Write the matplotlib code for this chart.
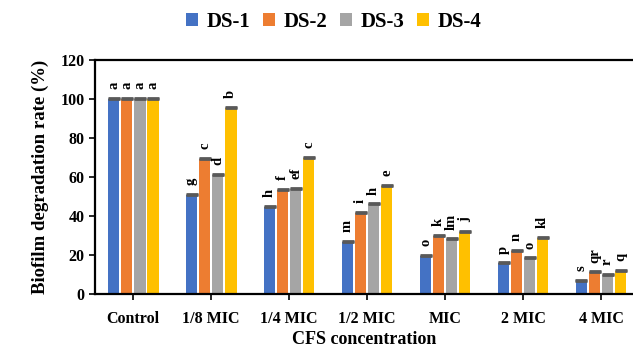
"""Biofilm degradation rate by CFS concentration, grouped bars."""

import matplotlib

matplotlib.use("Agg")
import numpy as np  # noqa: E402
from matplotlib import pyplot as plt  # noqa: E402

categories = ["Control", "1/8 MIC", "1/4 MIC", "1/2 MIC", "MIC", "2 MIC", "4 MIC"]
series_names = ["DS-1", "DS-2", "DS-3", "DS-4"]
ds1 = [100, 50.8, 44.8, 26.8, 19.6, 15.7, 6.8]
ds2 = [100, 69.2, 53.3, 41.7, 29.7, 22.2, 11.1]
ds3 = [100, 61.0, 53.8, 46.0, 28.0, 18.3, 9.9]
ds4 = [100, 95.5, 69.9, 55.5, 32.0, 28.9, 11.8]
errors = [0.5, 0.5, 0.5, 0.5, 0.5, 0.5, 0.5]
letters_ds1 = ["a", "g", "h", "m", "o", "p", "s"]
letters_ds2 = ["a", "c", "f", "i", "k", "n", "qr"]
letters_ds3 = ["a", "d", "ef", "h", "lm", "o", "r"]
letters_ds4 = ["a", "b", "c", "e", "j", "kl", "q"]

colors = ["#4472C4", "#ED7D31", "#A5A5A5", "#FFC000"]

plt.rcParams["font.family"] = ["Liberation Serif", "DejaVu Serif"]
plt.rcParams["font.weight"] = "bold"

fig = plt.figure(figsize=(6.33, 3.48), dpi=100)
ax = fig.add_axes([0.150, 0.155, 0.850, 0.673])

x = np.arange(len(categories))
step = 0.167
width = 0.15
for i, (vals, letters) in enumerate(
    zip([ds1, ds2, ds3, ds4], [letters_ds1, letters_ds2, letters_ds3, letters_ds4])
):
    pos = x + (i - 1.5) * step
    ax.bar(pos, vals, width, color=colors[i], label=series_names[i], zorder=2)
    ax.errorbar(pos, vals, yerr=[[0] * len(vals), errors], fmt="none",
                ecolor="#595959", elinewidth=1.0, capsize=4.0, capthick=2.0,
                zorder=3)
    for p, v, t in zip(pos, vals, letters):
        ax.text(p, v + 5.0, t, rotation=90, ha="center", va="bottom",
                fontsize=10.5, fontweight="bold")

ax.set_xlim(-0.49, 6.41)
ax.set_ylim(0, 120)
ax.set_yticks(range(0, 121, 20))
ax.set_xticks(x)
ax.set_xticklabels(categories)
ax.tick_params(axis="both", labelsize=11.5, width=1.2, length=4, direction="out")
ax.tick_params(axis="x", pad=8)
for lab in ax.get_xticklabels() + ax.get_yticklabels():
    lab.set_fontweight("bold")

for side in ("left", "bottom", "top"):
    ax.spines[side].set_linewidth(1.6)
ax.spines["right"].set_visible(False)

ax.set_xlabel("CFS concentration", fontsize=13, fontweight="bold", labelpad=3)
ax.set_ylabel("Biofilm degradation rate (%)", fontsize=13.5, fontweight="bold",
              labelpad=8)

fig.legend(loc="upper center", bbox_to_anchor=(0.527, 1.02), ncol=4, frameon=False,
           prop={"size": 15, "weight": "bold"}, handlelength=0.6, handleheight=0.6,
           handletextpad=0.4, columnspacing=0.6)

fig.savefig("out.png", dpi=100)
plt.close(fig)
